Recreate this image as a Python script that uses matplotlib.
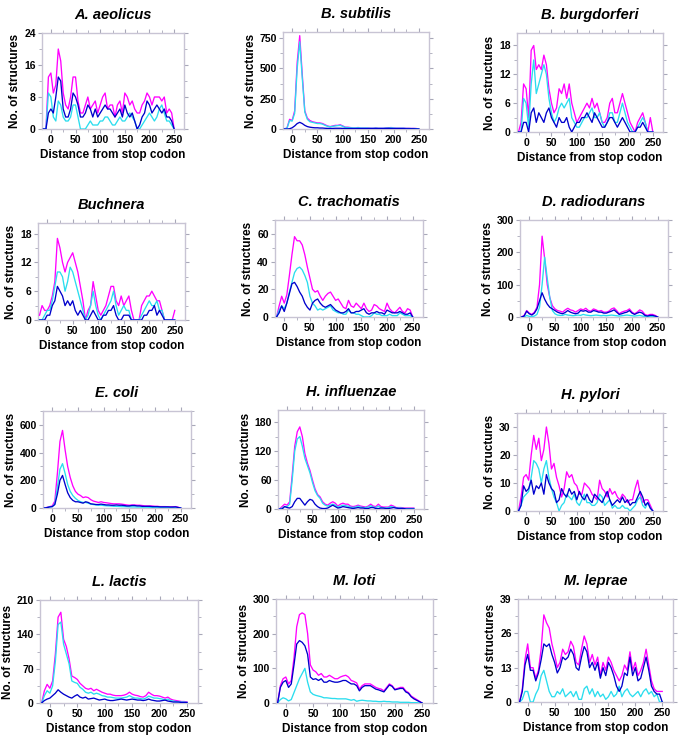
import matplotlib
matplotlib.use("Agg")
import matplotlib.pyplot as plt
from matplotlib.ticker import MultipleLocator
import numpy as np

plt.rcParams['font.family'] = ['Liberation Sans', 'DejaVu Sans']

# distance from stop codon (sampled every 5 nt)
distance = list(range(-15, 251, 5))

titles = ["A. aeolicus", "B. subtilis", "B. burgdorferi", "Buchnera",
          "C. trachomatis", "D. radiodurans", "E. coli", "H. influenzae",
          "H. pylori", "L. lactis", "M. loti", "M. leprae"]

ymax = [24, 800, 20.6, 20.2, 70, 300, 700, 205, 35, 210, 300, 39]
ystep = [8, 250, 6, 6, 20, 100, 200, 60, 10, 70, 100, 13]

# ---- series: magenta (total), cyan, blue ----
aeo_mag = [0, 0, 13, 14, 9, 11, 20, 17, 9, 6, 5, 8, 13, 13, 7, 4, 4, 6, 8, 5, 6, 7, 4, 6, 8, 9, 5, 6, 6, 3, 6, 7, 4, 9, 8, 6, 7, 5, 4, 4, 6, 7, 9, 8, 6, 8, 8, 8, 7, 8, 4, 5, 4, 0]
aeo_cya = [0, 0, 9, 8, 3, 2, 7, 6, 3, 2, 2, 3, 6, 6, 3, 0, 0, 0, 1, 2, 1, 1, 1, 2, 2, 3, 3, 2, 1, 1, 2, 3, 2, 2, 3, 4, 3, 2, 0, 0, 1, 2, 3, 4, 3, 2, 3, 5, 6, 4, 2, 2, 1, 0]
aeo_blu = [0, 0, 4, 5, 4, 8, 13, 12, 5, 3, 3, 5, 9, 8, 6, 3, 3, 4, 6, 5, 3, 5, 3, 4, 5, 6, 5, 5, 4, 3, 4, 5, 3, 6, 4, 3, 4, 2, 0, 1, 3, 4, 7, 6, 4, 5, 6, 5, 4, 5, 3, 3, 2, 0]

sub_mag = [0, 10, 80, 70, 150, 550, 770, 450, 150, 90, 70, 60, 55, 50, 50, 45, 35, 25, 20, 25, 30, 30, 35, 25, 15, 15, 12, 10, 10, 12, 10, 10, 10, 10, 8, 8, 10, 8, 8, 8, 10, 10, 12, 10, 8, 8, 8, 8, 6, 6, 5, 5, 4, 0]
sub_cya = [0, 8, 70, 65, 130, 500, 720, 420, 140, 80, 60, 55, 50, 45, 45, 40, 30, 22, 18, 22, 25, 28, 30, 22, 13, 12, 10, 9, 9, 10, 9, 8, 9, 8, 7, 7, 8, 7, 7, 7, 8, 8, 10, 8, 7, 7, 7, 7, 5, 5, 4, 4, 3, 0]
sub_blu = [0, 0, 2, 10, 25, 45, 55, 45, 30, 20, 15, 12, 10, 10, 8, 8, 6, 5, 5, 5, 6, 6, 6, 5, 4, 4, 4, 3, 3, 4, 3, 3, 3, 3, 3, 3, 4, 3, 3, 3, 4, 5, 4, 3, 3, 3, 3, 3, 2, 2, 2, 2, 1, 0]

bur_mag = [0, 2, 10, 9, 3, 17, 18, 13, 14, 13, 16, 14, 9, 6, 4, 5, 9, 8, 10, 7, 10, 6, 4, 2, 3, 4, 5, 6, 5, 7, 5, 6, 4, 2, 2, 3, 6, 7, 4, 4, 6, 8, 6, 4, 2, 1, 0, 2, 3, 4, 2, 0, 3, 0]
bur_cya = [0, 0, 7, 6, 1, 10, 15, 8, 10, 12, 14, 12, 7, 4, 2, 3, 5, 6, 5, 6, 7, 3, 2, 1, 1, 2, 3, 3, 4, 5, 3, 3, 4, 2, 1, 2, 4, 4, 2, 2, 4, 6, 4, 2, 1, 0, 0, 1, 2, 3, 2, 0, 0, 0]
bur_blu = [0, 0, 2, 2, 0, 4, 5, 2, 4, 3, 2, 4, 5, 3, 2, 1, 3, 2, 2, 3, 1, 0, 1, 2, 2, 3, 3, 4, 3, 2, 4, 3, 2, 1, 1, 2, 3, 3, 2, 1, 2, 3, 2, 1, 0, 0, 0, 1, 1, 2, 1, 0, 0, 0]

buc_mag = [1, 3, 2, 2, 3, 5, 8, 17, 15, 12, 10, 12, 13, 14, 12, 10, 7, 4, 0, 2, 3, 8, 5, 2, 1, 2, 3, 5, 7, 7, 4, 3, 5, 3, 4, 5, 2, 0, 0, 0, 3, 4, 5, 5, 6, 5, 4, 4, 2, 0, 0, 0, 0, 2]
buc_cya = [0, 0, 1, 2, 2, 4, 7, 10, 10, 9, 6, 8, 11, 10, 8, 6, 4, 2, 0, 1, 3, 6, 3, 1, 0, 1, 2, 3, 4, 6, 3, 1, 2, 3, 2, 2, 0, 0, 0, 0, 1, 2, 3, 4, 3, 3, 4, 2, 2, 0, 0, 0, 0, 0]
buc_blu = [0, 0, 0, 1, 1, 3, 4, 7, 6, 5, 3, 4, 3, 4, 2, 1, 2, 1, 0, 0, 1, 2, 1, 0, 0, 1, 1, 2, 2, 3, 1, 0, 0, 1, 1, 1, 0, 0, 0, 0, 0, 1, 1, 2, 2, 3, 1, 2, 1, 0, 0, 0, 0, 0]

tra_mag = [0, 8, 15, 10, 16, 30, 45, 58, 55, 55, 52, 45, 36, 28, 20, 18, 19, 15, 12, 15, 17, 18, 15, 12, 13, 10, 7, 6, 12, 8, 7, 10, 8, 6, 10, 6, 4, 5, 9, 8, 6, 5, 4, 10, 6, 4, 3, 5, 7, 4, 3, 6, 5, 0]
tra_cya = [0, 5, 8, 6, 10, 18, 25, 32, 35, 36, 34, 30, 25, 15, 10, 8, 5, 6, 5, 6, 7, 8, 5, 4, 3, 3, 2, 2, 5, 3, 3, 2, 2, 1, 0, 0, 0, 1, 3, 2, 2, 1, 1, 1, 2, 1, 1, 1, 3, 2, 1, 1, 1, 0]
tra_blu = [0, 3, 8, 4, 10, 17, 24, 25, 22, 18, 15, 10, 7, 5, 10, 12, 13, 10, 8, 7, 8, 9, 7, 5, 4, 3, 3, 4, 6, 3, 3, 4, 4, 5, 6, 3, 2, 3, 3, 4, 3, 3, 2, 5, 4, 3, 3, 3, 4, 3, 2, 2, 3, 0]

rad_mag = [0, 5, 20, 12, 8, 15, 30, 100, 250, 180, 100, 60, 35, 25, 20, 18, 15, 22, 27, 22, 20, 15, 20, 25, 22, 27, 20, 18, 25, 22, 18, 20, 15, 15, 18, 25, 28, 20, 10, 15, 18, 20, 25, 15, 10, 15, 22, 18, 8, 5, 8, 8, 5, 0]
rad_cya = [0, 0, 5, 2, 1, 3, 8, 30, 100, 185, 120, 60, 20, 10, 6, 5, 5, 8, 6, 5, 4, 5, 6, 5, 8, 6, 5, 4, 5, 6, 5, 4, 5, 4, 5, 6, 5, 4, 3, 4, 5, 6, 5, 4, 3, 4, 5, 3, 2, 2, 1, 1, 1, 0]
rad_blu = [0, 3, 18, 10, 6, 12, 25, 50, 75, 55, 40, 30, 25, 20, 15, 12, 10, 14, 20, 15, 12, 10, 12, 20, 18, 20, 15, 15, 20, 18, 15, 15, 12, 12, 15, 18, 22, 15, 8, 10, 13, 15, 20, 12, 8, 12, 15, 12, 5, 3, 5, 5, 3, 0]

col_mag = [0, 5, 10, 15, 50, 250, 480, 560, 420, 300, 220, 160, 120, 100, 90, 75, 80, 75, 60, 50, 45, 40, 45, 40, 38, 35, 32, 30, 30, 30, 28, 25, 22, 20, 22, 22, 20, 20, 18, 15, 15, 15, 14, 12, 12, 10, 10, 10, 9, 8, 9, 10, 5, 0]
col_cya = [0, 3, 8, 10, 30, 150, 280, 320, 250, 170, 120, 90, 70, 55, 45, 40, 40, 35, 28, 25, 22, 20, 20, 18, 16, 15, 14, 12, 12, 11, 10, 10, 9, 8, 8, 8, 7, 7, 6, 6, 6, 5, 5, 5, 5, 4, 4, 4, 4, 3, 3, 3, 2, 0]
col_blu = [0, 3, 8, 10, 25, 100, 200, 235, 170, 110, 75, 55, 45, 45, 40, 35, 45, 40, 30, 28, 25, 25, 28, 25, 22, 22, 20, 20, 22, 20, 20, 18, 15, 15, 18, 18, 15, 15, 12, 12, 12, 12, 10, 10, 10, 8, 8, 8, 8, 7, 7, 8, 4, 0]

inf_mag = [0, 5, 10, 8, 15, 70, 130, 160, 170, 150, 115, 95, 80, 60, 42, 30, 25, 15, 10, 8, 12, 15, 12, 6, 10, 12, 10, 10, 6, 5, 6, 8, 6, 5, 4, 6, 10, 6, 5, 10, 5, 4, 4, 4, 8, 6, 3, 3, 3, 2, 2, 2, 2, 2]
inf_cya = [0, 2, 5, 5, 10, 60, 120, 145, 150, 130, 105, 90, 75, 55, 38, 28, 22, 12, 8, 6, 8, 10, 8, 4, 6, 8, 7, 6, 4, 3, 4, 6, 4, 3, 3, 4, 7, 4, 3, 6, 3, 2, 2, 3, 5, 4, 2, 2, 2, 1, 1, 1, 1, 1]
inf_blu = [0, 0, 5, 3, 2, 5, 15, 22, 22, 15, 8, 15, 20, 18, 10, 5, 2, 1, 1, 2, 5, 8, 5, 2, 3, 5, 4, 3, 2, 1, 2, 3, 2, 2, 1, 1, 3, 3, 1, 1, 2, 2, 1, 1, 2, 3, 2, 1, 1, 1, 0, 0, 0, 0]

pyl_mag = [0, 5, 12, 13, 11, 20, 27, 22, 26, 18, 22, 30, 24, 15, 17, 12, 9, 5, 8, 14, 12, 13, 10, 9, 6, 6, 10, 9, 8, 6, 5, 4, 11, 8, 7, 5, 8, 6, 7, 5, 4, 6, 5, 3, 4, 4, 8, 11, 6, 3, 4, 4, 2, 0]
pyl_cya = [0, 2, 5, 6, 7, 12, 18, 17, 15, 10, 15, 18, 12, 8, 5, 3, 0, 2, 3, 6, 5, 4, 6, 3, 2, 4, 6, 3, 3, 2, 2, 3, 6, 5, 2, 3, 4, 1, 2, 1, 1, 2, 1, 1, 0, 1, 2, 4, 5, 2, 1, 3, 1, 0]
pyl_blu = [0, 2, 9, 7, 8, 11, 6, 9, 8, 10, 6, 13, 10, 8, 7, 3, 4, 8, 6, 5, 8, 6, 7, 4, 7, 5, 4, 6, 4, 3, 6, 5, 4, 3, 5, 7, 4, 2, 3, 4, 3, 5, 3, 4, 2, 3, 3, 5, 7, 5, 2, 3, 1, 0]

lac_mag = [0, 25, 38, 30, 45, 100, 175, 185, 130, 115, 90, 55, 52, 48, 40, 35, 30, 28, 30, 25, 28, 25, 22, 20, 18, 18, 16, 15, 15, 15, 16, 18, 22, 18, 16, 15, 13, 12, 15, 22, 18, 15, 15, 14, 12, 10, 12, 8, 6, 5, 4, 3, 3, 2]
lac_cya = [0, 15, 25, 20, 35, 85, 160, 165, 120, 100, 80, 45, 42, 40, 32, 28, 22, 20, 22, 18, 20, 18, 15, 14, 12, 12, 11, 10, 10, 10, 11, 12, 15, 12, 10, 10, 9, 8, 10, 14, 12, 10, 10, 9, 8, 6, 8, 5, 4, 3, 2, 2, 2, 1]
lac_blu = [0, 5, 8, 10, 15, 20, 27, 22, 18, 15, 12, 10, 14, 17, 12, 10, 12, 8, 9, 10, 8, 6, 7, 8, 6, 5, 5, 6, 7, 8, 7, 6, 7, 8, 7, 6, 6, 5, 6, 8, 6, 5, 4, 4, 5, 6, 4, 3, 2, 2, 2, 1, 1, 1]

lot_mag = [0, 50, 70, 75, 55, 65, 130, 220, 255, 260, 255, 200, 110, 95, 90, 80, 85, 75, 75, 80, 75, 70, 70, 75, 78, 80, 75, 65, 62, 58, 40, 50, 55, 55, 55, 50, 45, 42, 40, 35, 45, 55, 50, 40, 42, 45, 45, 35, 30, 20, 15, 10, 5, 0]
lot_cya = [0, 10, 15, 12, 6, 10, 30, 50, 70, 85, 100, 60, 32, 25, 22, 20, 18, 15, 15, 14, 13, 13, 12, 12, 12, 12, 10, 8, 10, 5, 7, 8, 7, 6, 6, 5, 5, 4, 4, 5, 4, 4, 3, 3, 3, 2, 2, 2, 2, 1, 1, 1, 0, 0]
lot_blu = [0, 45, 60, 65, 45, 55, 110, 170, 180, 175, 165, 140, 75, 68, 70, 65, 70, 60, 60, 65, 62, 60, 60, 62, 65, 65, 60, 55, 55, 50, 35, 45, 50, 50, 50, 45, 40, 38, 35, 32, 42, 52, 48, 38, 40, 42, 42, 32, 28, 18, 12, 8, 4, 0]

lep_mag = [0, 5, 16, 22, 13, 13, 9, 12, 20, 33, 30, 28, 22, 18, 13, 15, 20, 18, 19, 23, 21, 15, 14, 20, 25, 22, 15, 18, 14, 17, 10, 15, 12, 17, 15, 12, 10, 8, 10, 14, 12, 19, 12, 15, 10, 12, 15, 20, 14, 8, 5, 4, 4, 4]
lep_cya = [0, 1, 4, 4, 0, 0, 3, 5, 10, 12, 8, 4, 2, 2, 4, 3, 5, 2, 3, 4, 2, 4, 1, 1, 5, 6, 3, 5, 2, 4, 2, 3, 1, 2, 4, 2, 3, 6, 2, 4, 5, 3, 2, 3, 4, 2, 4, 5, 3, 4, 2, 3, 0, 0]
lep_blu = [0, 4, 14, 18, 12, 12, 8, 11, 16, 22, 21, 22, 18, 15, 11, 13, 17, 16, 17, 20, 18, 13, 12, 17, 21, 19, 13, 15, 12, 15, 9, 13, 10, 15, 13, 10, 6, 4, 6, 11, 10, 17, 10, 13, 8, 9, 13, 17, 12, 6, 4, 3, 3, 0]

series = [
    (aeo_mag, aeo_cya, aeo_blu), (sub_mag, sub_cya, sub_blu), (bur_mag, bur_cya, bur_blu),
    (buc_mag, buc_cya, buc_blu), (tra_mag, tra_cya, tra_blu), (rad_mag, rad_cya, rad_blu),
    (col_mag, col_cya, col_blu), (inf_mag, inf_cya, inf_blu), (pyl_mag, pyl_cya, pyl_blu),
    (lac_mag, lac_cya, lac_blu), (lot_mag, lot_cya, lot_blu), (lep_mag, lep_cya, lep_blu),
]

# axes boxes in pixels: left, top, right, bottom
boxes = [
    (42, 33, 184, 129), (283, 32, 429, 129), (517, 33, 663, 132),
    (38, 223, 185, 320), (275, 220, 423, 317), (520, 220, 668, 317),
    (43, 411, 191, 508), (278, 410, 424, 509), (517, 413, 663, 511),
    (40, 600, 198, 703), (276, 599, 433, 703), (518, 599, 673, 702),
]

W, H = 681, 742
fig = plt.figure(figsize=(W / 100, H / 100), dpi=100)
fig.patch.set_facecolor('white')

colors = ['#FF00FF', '#2ADDEE', '#0000CC']
frame_col = '#C8C4D4'

for i, (title, (m, c, b), box) in enumerate(zip(titles, series, boxes)):
    l, t, r, bt = box
    ax = fig.add_axes([l / W, 1 - bt / H, (r - l) / W, (bt - t) / H])
    x = np.array(distance)
    ax.plot(x, m, color=colors[0], lw=0.95, zorder=3)
    ax.plot(x, c, color=colors[1], lw=0.95, zorder=4)
    ax.plot(x, b, color=colors[2], lw=0.95, zorder=5)
    ax.set_xlim(-18, 270)
    ax.set_ylim(0, ymax[i])
    ax.xaxis.set_major_locator(MultipleLocator(50))
    ax.xaxis.set_minor_locator(MultipleLocator(25))
    ax.yaxis.set_major_locator(MultipleLocator(ystep[i]))
    ax.yaxis.set_minor_locator(MultipleLocator(ystep[i] / 2))
    for s in ax.spines.values():
        s.set_color(frame_col)
        s.set_linewidth(1.0)
    ax.tick_params(which='both', direction='out', color='#A8A8B8',
                   top=True, right=True, labelsize=7.5, pad=1.5)
    ax.tick_params(which='major', length=3)
    ax.tick_params(which='minor', length=2)
    for lab in ax.get_xticklabels() + ax.get_yticklabels():
        lab.set_fontweight('bold')
    ax.set_xlabel('Distance from stop codon', fontsize=8.5, fontweight='bold', labelpad=3)
    ax.set_ylabel('No. of structures', fontsize=8.5, fontweight='bold', labelpad=2)
    ax.set_title(title, fontsize=10.5, fontweight='bold', fontstyle='italic', pad=10)

fig.savefig('out.png', dpi=100, facecolor='white')
